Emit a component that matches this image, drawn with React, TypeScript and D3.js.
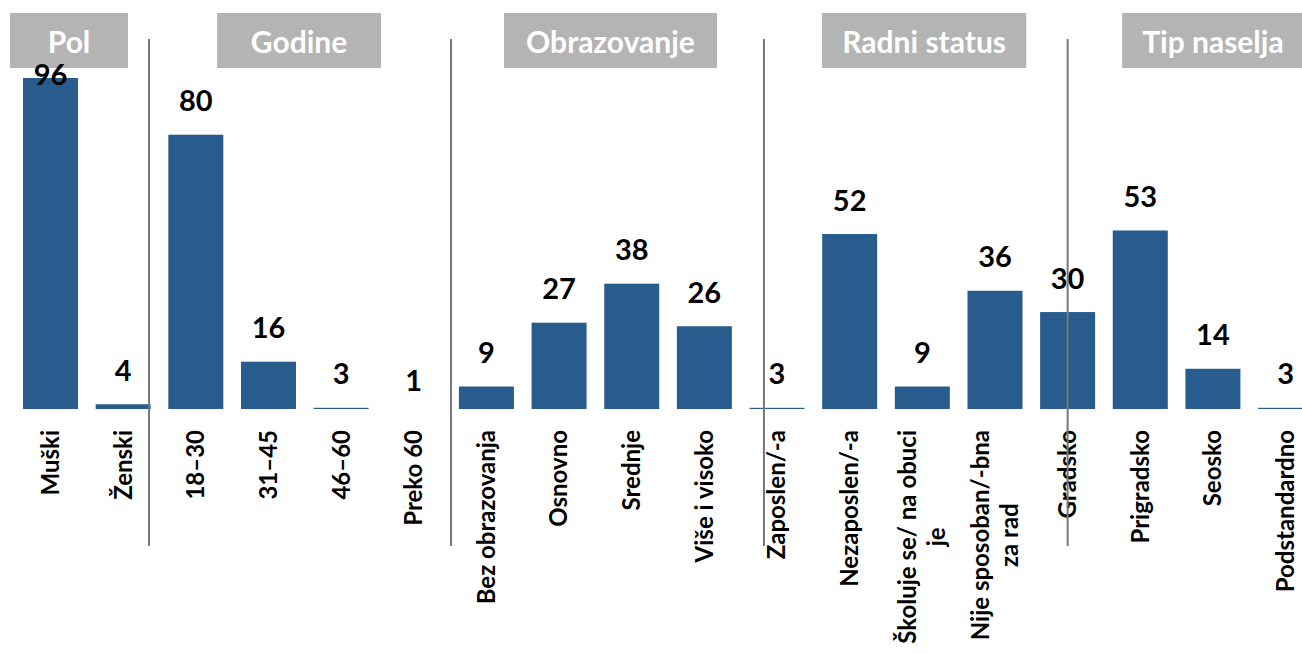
import * as d3 from "d3";
import React, { useEffect, useRef } from "react";

// categories (line breaks where the original wraps the label)
const categories = [
  "Muški",
  "Ženski",
  "18–30",
  "31–45",
  "46–60",
  "Preko 60",
  "Bez obrazovanja",
  "Osnovno",
  "Srednje",
  "Više i visoko",
  "Zaposlen/-a",
  "Nezaposlen/-a",
  "Školuje se/ na obuci\nje",
  "Nije sposoban/-bna\nza rad",
  "Gradsko",
  "Prigradsko",
  "Seosko",
  "Podstandardno",
];
const values = [96, 4, 80, 16, 3, 1, 9, 27, 38, 26, 3, 52, 9, 36, 30, 53, 14, 3];

const groups = ["Pol", "Godine", "Obrazovanje", "Radni status", "Tip naselja"];

// header boxes and separators, in category-step units from the first bar centre
const headerSpans = [
  [-0.557, 1.067],
  [2.292, 4.549],
  [6.242, 9.174],
  [10.62, 13.43],
  [14.75, 17.25],
];
const separators = [1.356, 5.513, 9.82, 14.0];

const W = 1302;
const H = 653;
const baseY = 409;
const topY = 78;
const labelTop = 430;
const font = "Lato, 'Open Sans', sans-serif";
const barColor = "#285c8c";

function Chart() {
  const ref = useRef<SVGSVGElement>(null);

  useEffect(() => {
    if (!ref.current) return;
    const svg = d3.select(ref.current);
    svg.selectChildren().remove();

    const x = d3
      .scaleBand()
      .domain(categories)
      .range([14.2, 1321.9])
      .paddingInner(0.243)
      .paddingOuter(0.1215);
    const bw = x.bandwidth();
    const cx0 = (x(categories[0]) as number) + bw / 2;
    const at = (k: number) => cx0 + x.step() * k;

    // axis min is above the smallest values, so those bars get clipped away
    const y = d3.scaleLinear().domain([2.66, 96]).range([baseY, topY]);

    // header boxes
    const hdr = svg
      .append("g")
      .selectAll("g")
      .data(groups)
      .join("g");
    hdr
      .append("rect")
      .attr("x", (d, i) => at(headerSpans[i][0]))
      .attr("width", (d, i) => at(headerSpans[i][1]) - at(headerSpans[i][0]))
      .attr("y", 13)
      .attr("height", 55)
      .attr("fill", "#b4b4b4");
    hdr
      .append("text")
      .attr("x", (d, i) => (at(headerSpans[i][0]) + at(headerSpans[i][1])) / 2)
      .attr("y", 53)
      .attr("text-anchor", "middle")
      .attr("fill", "#fff")
      .style("font", `bold 30px ${font}`)
      .text((d) => d);

    // bars
    svg
      .append("g")
      .selectAll("rect")
      .data(values)
      .join("rect")
      .attr("x", (d, i) => x(categories[i]) as number)
      .attr("width", bw)
      .attr("y", (d) => Math.min(y(d), baseY))
      .attr("height", (d) => Math.max(0, baseY - y(d)))
      .attr("fill", barColor);

    // value labels
    svg
      .append("g")
      .attr("text-anchor", "middle")
      .style("font", `bold 29px ${font}`)
      .selectAll("text")
      .data(values)
      .join("text")
      .attr("x", (d, i) => at(i))
      .attr("y", (d) => Math.max(y(d) - 23.5, 85))
      .attr("fill", "#000")
      .text((d) => d);

    // category labels, rotated
    const cat = svg
      .append("g")
      .style("font", `bold 24px ${font}`)
      .attr("fill", "#000")
      .selectAll("g")
      .data(categories)
      .join("g")
      .attr("transform", (d, i) => `translate(${at(i)},${labelTop}) rotate(-90)`);

    cat.each(function (d) {
      const g = d3.select(this);
      const lines = d.split("\n");
      const lh = 29;
      const ts = g
        .selectAll("text")
        .data(lines)
        .join("text")
        .attr("y", (l, j) => (j - (lines.length - 1) / 2) * lh)
        .attr("dy", "0.35em")
        .text((l) => l);
      if (lines.length === 1) {
        ts.attr("text-anchor", "end");
      } else {
        let maxW = 0;
        ts.each(function () {
          maxW = Math.max(maxW, (this as SVGTextElement).getComputedTextLength());
        });
        ts.attr("text-anchor", "middle").attr("x", -maxW / 2);
      }
    });

    // group separators
    svg
      .append("g")
      .selectAll("line")
      .data(separators)
      .join("line")
      .attr("x1", (d) => at(d))
      .attr("x2", (d) => at(d))
      .attr("y1", 39)
      .attr("y2", 546)
      .attr("stroke", "#777")
      .attr("stroke-width", 2);
  }, []);

  return <svg ref={ref} width={W} height={H} style={{ display: "block" }} />;
}

export default function App() {
  return (
    <div style={{ position: "absolute", left: 0, top: 0, width: W, height: H, overflow: "hidden", background: "#fff" }}>
      <Chart />
    </div>
  );
}
